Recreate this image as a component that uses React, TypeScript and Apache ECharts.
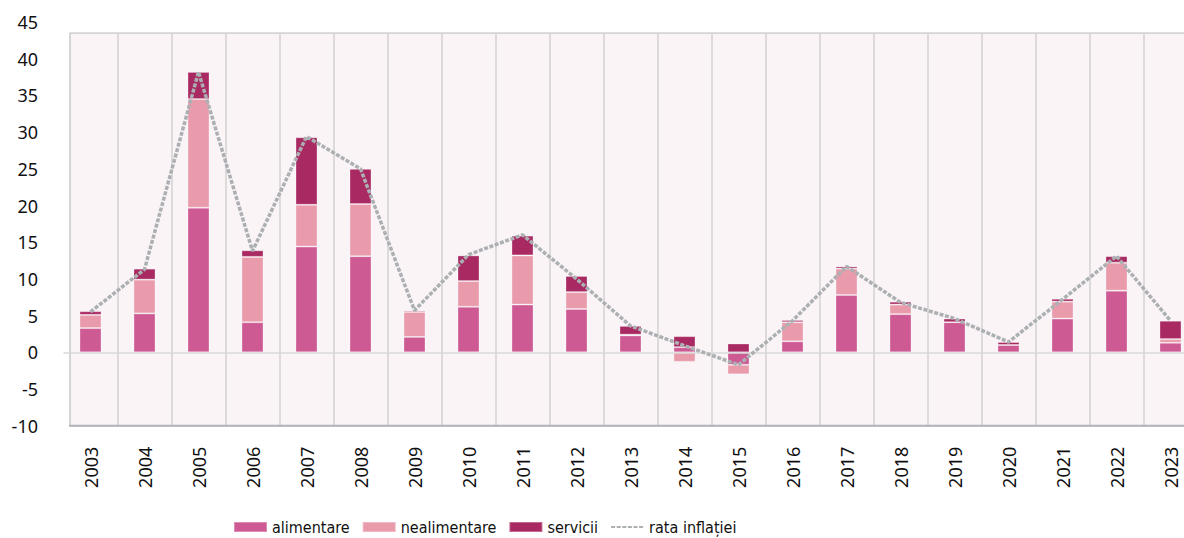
import React, { useEffect, useRef } from "react";
import * as echarts from "echarts";

const years = ["2003","2004","2005","2006","2007","2008","2009","2010","2011","2012","2013","2014","2015","2016","2017","2018","2019","2020","2021","2022","2023"];
const alimentare = [3.3, 5.3, 19.7, 4.1, 14.4, 13.1, 2.1, 6.2, 6.5, 5.9, 2.3, 0.7, -1.7, 1.5, 7.8, 5.2, 4.1, 1.0, 4.6, 8.4, 1.3];
const nealimentare = [1.8, 4.6, 14.8, 8.9, 5.7, 7.1, 3.4, 3.5, 6.7, 2.3, 0.1, -1.3, -1.3, 2.6, 3.6, 1.3, 0.0, 0.0, 2.3, 3.8, 0.5];
const servicii = [0.5, 1.5, 3.7, 0.9, 9.2, 4.8, 0.2, 3.5, 2.7, 2.2, 1.2, 1.5, 1.2, 0.3, 0.3, 0.4, 0.5, 0.4, 0.4, 0.9, 2.5];
const rataInflatiei = [5.5, 11.3, 38.2, 13.8, 29.4, 25.0, 5.7, 13.3, 16.0, 10.0, 3.6, 0.9, -1.7, 4.3, 11.7, 6.8, 4.6, 1.4, 7.2, 13.1, 4.3];

const AXIS_FONT = "'Noto Sans', 'Open Sans', sans-serif";
const LEGEND_FONT = "'Liberation Sans Narrow', 'DejaVu Sans Condensed', sans-serif";

export default function App() {
  const ref = useRef<HTMLDivElement>(null);
  useEffect(() => {
    if (!ref.current) return;
    const chart = echarts.init(ref.current, null, { renderer: "svg" });
    const barCommon = {
      type: "bar",
      stack: "total",
      barWidth: 22,
      itemStyle: { borderColor: "rgba(255,255,255,0.3)", borderWidth: 1 },
    };
    chart.setOption({
      animation: false,
      backgroundColor: "#ffffff",
      grid: { left: 63.5, top: 22, width: 1134, height: 403.7 },
      graphic: {
        elements: [
          {
            type: "rect",
            z: -10,
            shape: { x: 70, y: 33, width: 1150, height: 392.7 },
            style: { fill: "#faf4f7", stroke: "#c9c9c9", lineWidth: 1.5 },
          },
          {
            type: "rect",
            z: 50,
            shape: { x: 62, y: 0, width: 1160, height: 32.2 },
            style: { fill: "#ffffff" },
          },
          {
            type: "line",
            z: 5,
            shape: { x1: 69, y1: 425.7, x2: 1220, y2: 425.7 },
            style: { stroke: "#b1b5b9", lineWidth: 2 },
          },
        ],
      },
      legend: {
        left: 228,
        top: 514,
        itemWidth: 33,
        itemHeight: 10,
        itemGap: 12,
        textStyle: { fontFamily: LEGEND_FONT, fontSize: 16, color: "#111" },
        data: [
          { name: "alimentare", icon: "rect" },
          { name: "nealimentare", icon: "rect" },
          { name: "servicii", icon: "rect" },
          { name: "rata inflației", itemStyle: { opacity: 0 } },
        ],
      },
      xAxis: {
        type: "category",
        data: years,
        boundaryGap: true,
        axisLine: { show: false },
        axisTick: { show: false },
        splitLine: {
          show: true,
          interval: (i: number) => i > 0,
          lineStyle: { color: "#d2d2d2", width: 1.5 },
        },
        axisLabel: {
          rotate: 90,
          margin: 21,
          fontFamily: AXIS_FONT,
          fontSize: 18,
          color: "#111",
          interval: 0,
        },
      },
      yAxis: {
        type: "value",
        min: -10,
        max: 45,
        interval: 5,
        axisLine: { show: false },
        axisTick: { show: false },
        splitLine: { show: false },
        axisLabel: { margin: 25.5, fontFamily: AXIS_FONT, fontSize: 18, color: "#111" },
      },
      series: [
        {
          ...barCommon,
          name: "alimentare",
          data: alimentare,
          color: "#cd5a93",
          markLine: {
            silent: true,
            symbol: "none",
            label: { show: false },
            lineStyle: { color: "#d9d9d9", width: 1.5, type: "solid" },
            data: [{ yAxis: 0 }],
            z: 3,
          },
        },
        { ...barCommon, name: "nealimentare", data: nealimentare, color: "#e99bab" },
        { ...barCommon, name: "servicii", data: servicii, color: "#a92a62" },
        {
          type: "line",
          name: "rata inflației",
          data: rataInflatiei,
          color: "#adb0b3",
          symbol: "none",
          z: 10,
          lineStyle: { color: "#adb0b3", width: 3.5, type: [4, 1.6] },
        },
      ],
    });
    return () => chart.dispose();
  }, []);
  return (
    <div
      ref={ref}
      style={{ position: "fixed", left: 0, top: 0, width: 1220, height: 538 }}
    />
  );
}
